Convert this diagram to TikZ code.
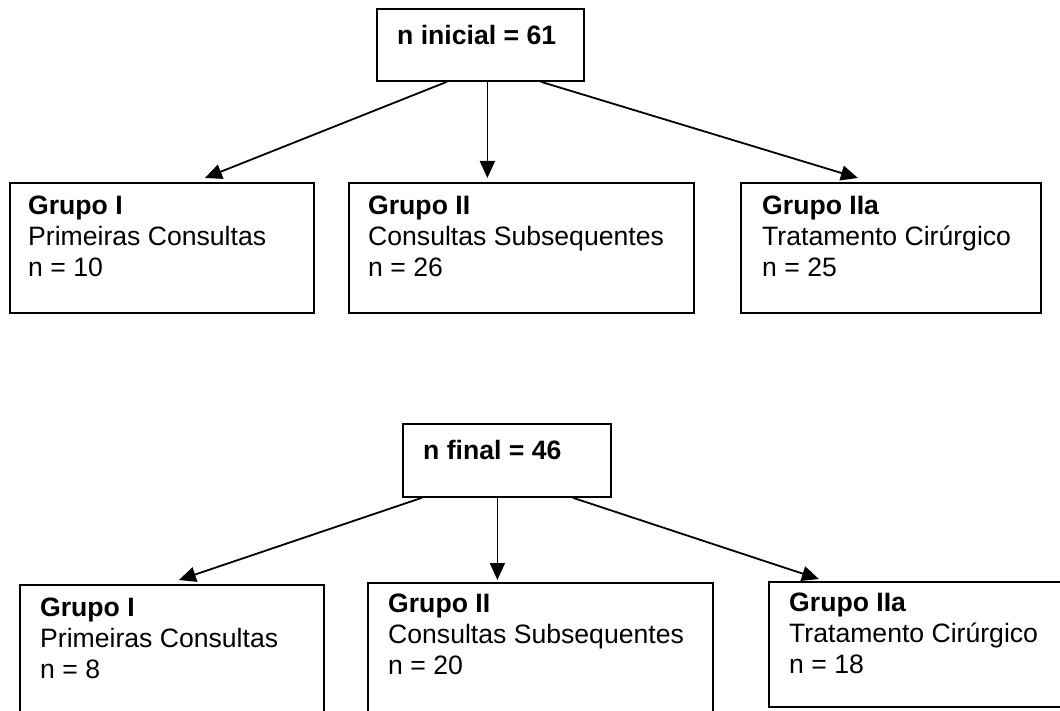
\documentclass[tikz,border=0pt]{standalone}
\usepackage{fontspec}
\setmainfont{Liberation Sans}
\usetikzlibrary{arrows.meta,positioning}
\usetikzlibrary{calc}

\begin{document}
\begin{tikzpicture}[
    x=1pt, y=-1pt,
    >={Triangle[length=17pt,width=15pt]},
    every node/.style={
        font=\fontsize{26.6}{31}\selectfont
    },
    caixa/.style={
        rectangle,
        draw,
        line width=1.8pt,
        anchor=north west,
        inner sep=0pt
    },
    rotulo/.style={
        anchor=north west,
        align=left,
        inner sep=0pt
    },
    seta/.style={
        ->,
        line width=1.8pt
    }
]
\useasboundingbox (0,0) rectangle (1060,711);

% Initial sample
\node[caixa, minimum width=207pt, minimum height=72pt] (ini) at (376,8) {};
\node[rotulo] (tini) at ($(ini.north west)+(21,17)$) {\textbf{n inicial = 61}};

% Initial groups
\node[caixa, minimum width=304pt, minimum height=130pt] (g1) at (9,182) {};
\node[caixa, minimum width=345pt, minimum height=130pt] (g2) at (348,182) {};
\node[caixa, minimum width=300pt, minimum height=130pt] (g3) at (740,182) {};

\node[rotulo] (tg1) at ($(g1.north west)+(19,14)$) {\textbf{Grupo I}\\Primeiras Consultas\\n = 10};
\node[rotulo] (tg2) at ($(g2.north west)+(20,14)$) {\textbf{Grupo II}\\Consultas Subsequentes\\n = 26};
\node[rotulo] (tg3) at ($(g3.north west)+(22,14)$) {\textbf{Grupo IIa}\\Tratamento Cirúrgico\\n = 25};

% Final sample
\node[caixa, minimum width=208pt, minimum height=73pt] (fin) at (402,423) {};
\node[rotulo] (tfin) at ($(fin.north west)+(21,17)$) {\textbf{n final = 46}};

% Final groups
\node[caixa, minimum width=304pt, minimum height=140pt] (h1) at (19,584) {};
\node[caixa, minimum width=345pt, minimum height=140pt] (h2) at (367,582) {};
\node[caixa, minimum width=302pt, minimum height=125pt] (h3) at (768,581) {};

\node[rotulo] (th1) at ($(h1.north west)+(21,14)$) {\textbf{Grupo I}\\Primeiras Consultas\\n = 8};
\node[rotulo] (th2) at ($(h2.north west)+(21,12)$) {\textbf{Grupo II}\\Consultas Subsequentes\\n = 20};
\node[rotulo] (th3) at ($(h3.north west)+(21,12)$) {\textbf{Grupo IIa}\\Tratamento Cirúrgico\\n = 18};

% Arrows
\draw[seta] ($(ini.south)+(-33.5,0)$) -- ($(g1.north)+(43,-4)$);
\draw[seta] ($(ini.south)+(7,0)$) -- ($(g2.north)+(-34,-4)$);
\draw[seta] ($(ini.south)+(60.5,0)$) -- ($(g3.north)+(-33,-4)$);

\draw[seta] ($(fin.south)+(-85,0)$) -- ($(h1.north)+(7,-4)$);
\draw[seta] ($(fin.south)+(-9.5,0)$) -- ($(h2.north)+(-43,-2)$);
\draw[seta] ($(fin.south)+(66,0)$) -- ($(h3.north)+(-101,-2)$);

\end{tikzpicture}
\end{document}
